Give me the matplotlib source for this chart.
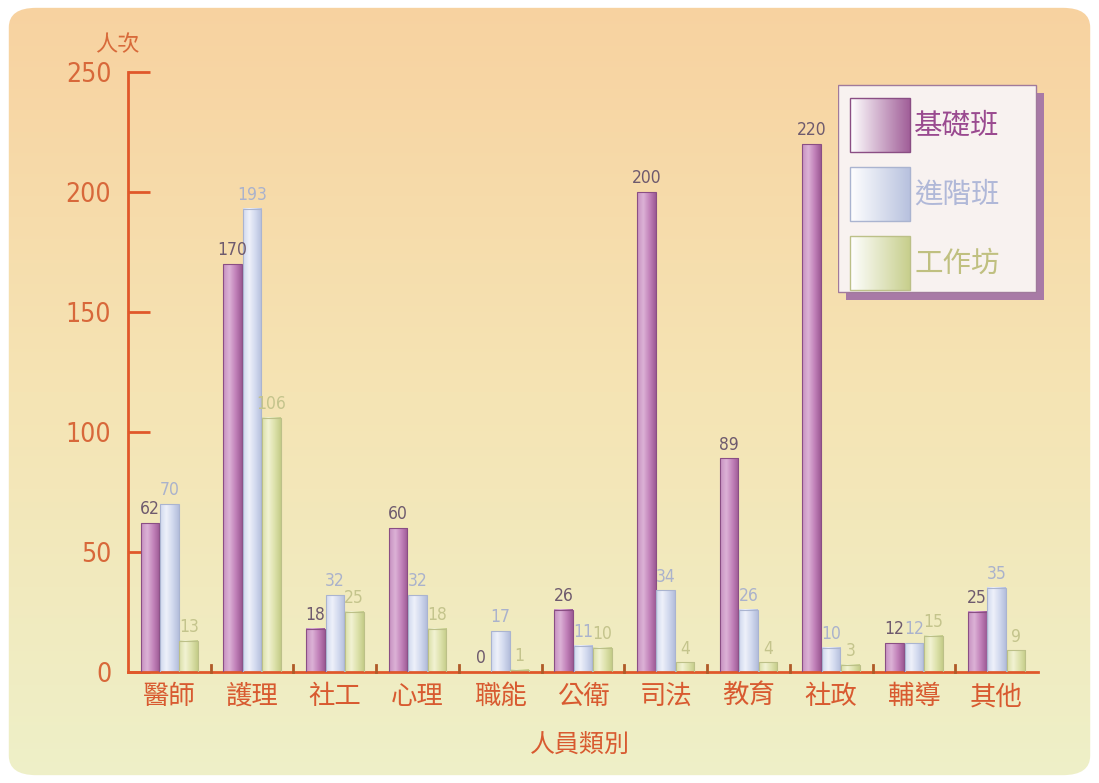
import matplotlib
matplotlib.use("Agg")
import matplotlib.pyplot as plt
import numpy as np
from matplotlib.colors import LinearSegmentedColormap
from matplotlib.patches import FancyBboxPatch, Rectangle

plt.rcParams['font.family'] = ['Noto Sans CJK TC', 'DejaVu Sans']

categories = ['醫師', '護理', '社工', '心理', '職能', '公衛', '司法', '教育', '社政', '輔導', '其他']
series_names = ['基礎班', '進階班', '工作坊']
basic = [62, 170, 18, 60, 0, 26, 200, 89, 220, 12, 25]
advanced = [70, 193, 32, 32, 17, 11, 34, 26, 10, 12, 35]
workshop = [13, 106, 25, 18, 1, 10, 4, 4, 3, 15, 9]
yticks = [0, 50, 100, 150, 200, 250]

series = [basic, advanced, workshop]
bar_cmaps = [
    LinearSegmentedColormap.from_list('p', ['#c690c0', '#dcb2d6', '#c282ba', '#9c5a94']),
    LinearSegmentedColormap.from_list('b', ['#d0d8ee', '#eef1fa', '#d2d9ee', '#b4bedc']),
    LinearSegmentedColormap.from_list('g', ['#dadfa8', '#f2f2d2', '#dde2ac', '#c4cc88']),
]
edge_colors = ['#8a4e84', '#aab4d0', '#bcc088']
label_colors = ['#6e5a6e', '#aab2cc', '#c4c48c']
legend_text_colors = ['#9a4a90', '#b0b8d8', '#c0c080']
axis_color = '#e0582a'
tick_color = '#d8683a'
num_font = dict(family='DejaVu Sans', fontstretch='condensed')

fig = plt.figure(figsize=(10.99, 7.83), dpi=100)
fig.patch.set_facecolor('white')

# background gradient panel
bg = fig.add_axes([0, 0, 1, 1])
bg.set_xlim(0, 1)
bg.set_ylim(0, 1)
bg.axis('off')
bg_cmap = LinearSegmentedColormap.from_list('bg', ['#eef0c8', '#f5e4b4', '#f8d2a0'])
grad = np.linspace(0, 1, 256).reshape(-1, 1)
im = bg.imshow(grad, extent=[0, 1, 0, 1], origin='lower', cmap=bg_cmap, aspect='auto')
clip = FancyBboxPatch((0.008, 0.01), 0.984, 0.98, boxstyle='round,pad=0,rounding_size=0.025',
                      transform=bg.transAxes, facecolor='none', edgecolor='none')
bg.add_patch(clip)
im.set_clip_path(clip)

ax = fig.add_axes([128 / 1099, 1 - 672 / 783, (1038 - 128) / 1099, 600 / 783])
ax.patch.set_alpha(0)

x = np.arange(len(categories))
w = 0.225
offsets = [-0.235, 0.0, 0.235]
hgrad = np.linspace(0, 1, 64).reshape(1, -1)
for s, vals in enumerate(series):
    for i, v in enumerate(vals):
        x0 = x[i] + offsets[s] - w / 2
        x1 = x0 + w
        if v > 0:
            ax.imshow(hgrad, extent=[x0, x1, 0, v], cmap=bar_cmaps[s], aspect='auto', zorder=2)
            ax.add_patch(Rectangle((x0, 0), w, v, facecolor='none', edgecolor=edge_colors[s],
                                   lw=0.8, zorder=3))
        ax.text(x[i] + offsets[s], v + 2, str(v), ha='center', va='bottom', fontsize=12.5,
                color=label_colors[s], zorder=4, **num_font)

ax.set_xlim(-0.5, len(categories) - 0.5)
ax.set_ylim(0, 250)
for sp in ['top', 'right']:
    ax.spines[sp].set_visible(False)
ax.spines['left'].set_color(axis_color)
ax.spines['bottom'].set_color(axis_color)
ax.spines['left'].set_linewidth(2)
ax.spines['bottom'].set_linewidth(2)

ax.set_yticks(yticks)
ax.set_yticklabels([str(t) for t in yticks], fontsize=19, color=tick_color, **num_font)
ax.tick_params(axis='y', direction='in', length=16, width=2, color=axis_color, pad=12)

ax.set_xticks(x)
ax.set_xticklabels(categories, fontsize=19, color='#d85a30')
ax.tick_params(axis='x', length=0, pad=8)
for b in np.arange(0.5, len(categories) - 0.5, 1):
    ax.plot([b, b], [0, 3], color='#b05a28', lw=2, clip_on=False, zorder=5)

fig.text(117 / 1099, 1 - 45 / 783, '人次', fontsize=16, color='#d86a3a', ha='center', va='center')
fig.text(580 / 1099, 1 - 745 / 783, '人員類別', fontsize=18, color='#d85a30', ha='center', va='center')

# legend box
lx0, ly0, lw_, lh = 838 / 1099, 1 - 300 / 783, 206 / 1099, 216 / 783
lax = fig.add_axes([lx0, ly0, lw_, lh])
lax.set_xlim(0, 1)
lax.set_ylim(0, 1)
lax.axis('off')
lax.add_patch(Rectangle((0.04, 0.0), 0.96, 0.96, facecolor='#a87aa6', edgecolor='none', zorder=1))
lax.add_patch(Rectangle((0.0, 0.035), 0.96, 0.96, facecolor='#f8f2f0', edgecolor='#a07a9c',
                        lw=1, zorder=2))
for k, name in enumerate(series_names):
    yc = 0.81 - k * 0.32
    lax.imshow(hgrad, extent=[0.06, 0.35, yc - 0.125, yc + 0.125],
               cmap=LinearSegmentedColormap.from_list('l', ['#ffffff', bar_cmaps[k](0.95)]),
               aspect='auto', zorder=3)
    lax.add_patch(Rectangle((0.06, yc - 0.125), 0.29, 0.25, facecolor='none',
                            edgecolor=edge_colors[k], lw=1, zorder=4))
    lax.text(0.37, yc, name, fontsize=20.5, color=legend_text_colors[k], va='center', ha='left',
             zorder=5)

fig.savefig('out.png', dpi=100)
